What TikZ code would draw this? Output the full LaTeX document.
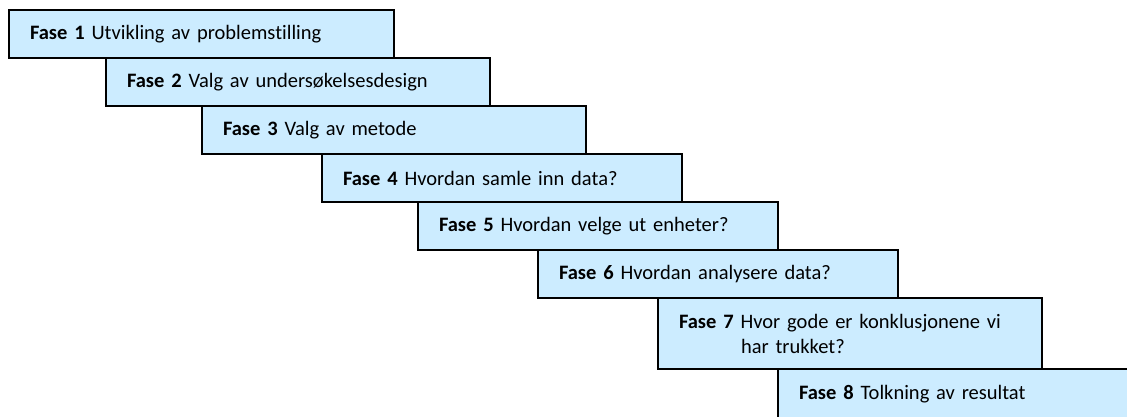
\documentclass[tikz,border=0pt]{standalone}
\usepackage{fontspec}
\setmainfont{Carlito}[Ligatures=CommonOff]
\begin{document}
\begin{tikzpicture}[x=1pt,y=-1pt,
  fase/.style={draw=black, line width=2pt, fill=phasefill, rectangle,
    anchor=north west, inner xsep=21pt, inner ysep=0pt, align=left,
    font=\fontsize{20.5}{25}\selectfont},
]
\definecolor{phasefill}{RGB}{204,236,255}
\useasboundingbox (0,0) rectangle (1127,416);
\clip (0,0) rectangle (1127,416);
% staircase of phases, each step drawn over the previous one
\node[fase, minimum width=385pt, minimum height=48pt, text width=343pt] (f1) at (8,9)
  {\textbf{Fase 1} Utvikling av problemstilling};
\node[fase, minimum width=384pt, minimum height=48pt, text width=342pt] (f2) at (105,57)
  {\textbf{Fase 2} Valg av undersøkelsesdesign};
\node[fase, minimum width=384pt, minimum height=48pt, text width=342pt] (f3) at (201,105)
  {\textbf{Fase 3} Valg av metode};
\node[fase, minimum width=360pt, minimum height=48pt, text width=318pt] (f4) at (321,153)
  {\textbf{Fase 4} Hvordan samle inn data?};
\node[fase, minimum width=360pt, minimum height=48pt, text width=318pt] (f5) at (417,201)
  {\textbf{Fase 5} Hvordan velge ut enheter?};
\node[fase, minimum width=360pt, minimum height=48pt, text width=318pt] (f6) at (537,249)
  {\textbf{Fase 6} Hvordan analysere data?};
\node[fase, minimum width=384pt, minimum height=71pt, text width=342pt] (f7) at (657,297)
  {\textbf{Fase 7} Hvor gode er konklusjonene vi\\\hspace*{62pt}har trukket?};
\node[fase, minimum width=384pt, minimum height=50pt, text width=342pt] (f8) at (777,368)
  {\textbf{Fase 8} Tolkning av resultat};
\end{tikzpicture}
\end{document}
